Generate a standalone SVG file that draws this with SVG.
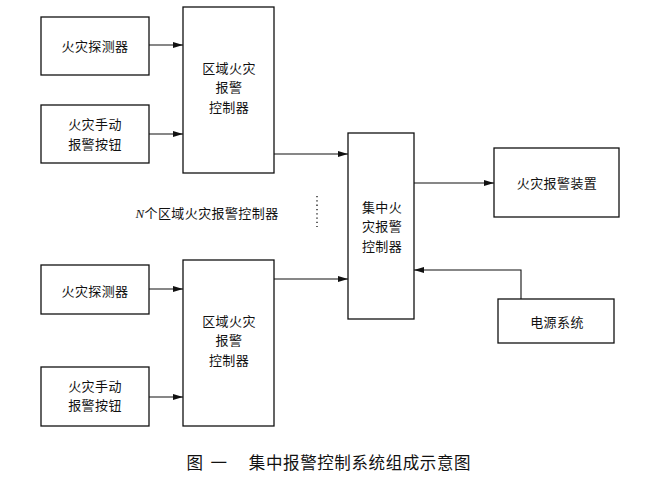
<svg xmlns="http://www.w3.org/2000/svg" width="645" height="500" viewBox="0 0 645 500">
<style>
.box{fill:#fff;stroke:#111;stroke-width:1.3}
.ln{fill:none;stroke:#111;stroke-width:1.1}
text{font-family:"Noto Sans CJK SC","Liberation Serif",serif;font-size:13px;letter-spacing:0.4px;fill:#111;text-anchor:middle}
text.cap{font-size:16.5px;letter-spacing:0.6px}
</style>
<defs>
<marker id="ah" markerWidth="10" markerHeight="6" refX="10" refY="3" orient="auto" markerUnits="userSpaceOnUse">
<path d="M0,0 L10,3 L0,6 Z" fill="#111"/>
</marker>
</defs>
<rect width="645" height="500" fill="#fff"/>
<g id="connectors">
<line class="ln" x1="149" y1="45" x2="183" y2="45" marker-end="url(#ah)"/>
<line class="ln" x1="149" y1="134" x2="183" y2="134" marker-end="url(#ah)"/>
<line class="ln" x1="149" y1="289" x2="183" y2="289" marker-end="url(#ah)"/>
<line class="ln" x1="149" y1="397" x2="183" y2="397" marker-end="url(#ah)"/>
<polyline class="ln" points="274,154 300,154 348,154" marker-end="url(#ah)"/>
<polyline class="ln" points="274,279 300,279 348,279" marker-end="url(#ah)"/>
<line class="ln" x1="414" y1="183" x2="494" y2="183" marker-end="url(#ah)"/>
<polyline class="ln" points="521,299 521,270 414,270" marker-end="url(#ah)"/>
<line x1="317" y1="196" x2="317" y2="227" stroke="#111" stroke-width="1.3" stroke-dasharray="1.3,3"/>
</g>
<g id="det1"><rect class="box" x="41" y="17" width="108" height="58"/><text x="95" y="50.5">火灾探测器</text></g>
<g id="btn1"><rect class="box" x="41" y="105" width="108" height="58"/><text x="95" y="129">火灾手动</text><text x="95" y="148.5">报警按钮</text></g>
<g id="reg1"><rect class="box" x="183" y="7" width="91" height="166"/><text x="229" y="72.5">区域火灾</text><text x="229" y="92">报警</text><text x="229" y="111.5">控制器</text></g>
<g id="det2"><rect class="box" x="41" y="265" width="108" height="49"/><text x="95" y="295.5">火灾探测器</text></g>
<g id="btn2"><rect class="box" x="41" y="367" width="108" height="59"/><text x="95" y="390.5">火灾手动</text><text x="95" y="410">报警按钮</text></g>
<g id="reg2"><rect class="box" x="183" y="260" width="91" height="166"/><text x="229" y="325.5">区域火灾</text><text x="229" y="345">报警</text><text x="229" y="364.5">控制器</text></g>
<g id="central"><rect class="box" x="348" y="133" width="66" height="186"/><text x="382" y="211.5">集中火</text><text x="382" y="231">灾报警</text><text x="382" y="250.5">控制器</text></g>
<g id="alarm"><rect class="box" x="494" y="148" width="125" height="69"/><text x="557" y="187.5">火灾报警装置</text></g>
<g id="power"><rect class="box" x="498" y="299" width="116" height="44"/><text x="557" y="326.5">电源系统</text></g>
<g id="nlabel"><text x="207" y="217.5"><tspan font-family="'Liberation Serif',serif" font-style="italic">N</tspan>个区域火灾报警控制器</text></g>
<g id="caption"><text class="cap" x="195" y="469">图</text><text class="cap" x="219" y="469">一</text><text class="cap" x="360" y="469">集中报警控制系统组成示意图</text></g>
</svg>
